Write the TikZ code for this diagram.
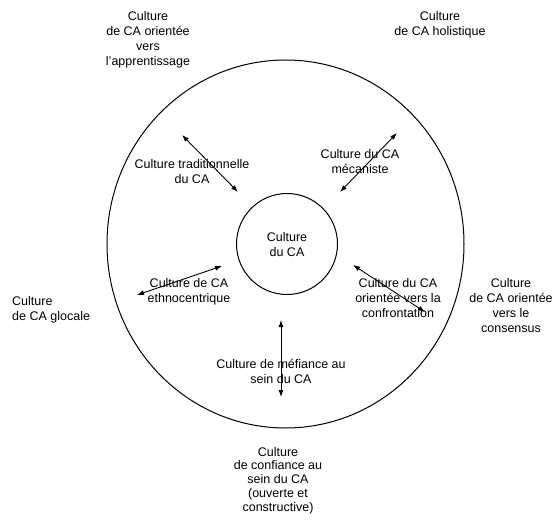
\documentclass[tikz,border=0pt]{standalone}
\usepackage{fontspec}
\setmainfont{Liberation Sans}
\usetikzlibrary{arrows.meta,shapes.geometric}
\begin{document}
\begin{tikzpicture}[x=1pt,y=-1pt,
  lbl/.style={align=center,inner sep=0pt,font=\fontsize{12.5}{15}\selectfont},
  dbl/.style={{Latex[length=7pt,width=5pt]}-{Latex[length=7pt,width=5pt]},line width=0.9pt},
  ring/.style={draw,line width=1pt}]
\useasboundingbox (0,0) rectangle (555,524);
% circles
\node[ring,ellipse,minimum width=357pt,minimum height=368pt,inner sep=0pt] (outer) at (285.5,244) {};
\node[ring,circle,minimum size=101pt,inner sep=0pt] (inner) at (287,244) {};
\node[lbl] (core) at (287,245) {Culture\\du CA};
% outside labels
\node[lbl] (appr) at (148,40) {Culture\\de CA orientée\\vers\\l'apprentissage};
\node[lbl] (holi) at (440,25) {Culture\\de CA holistique};
\node[lbl,align=left,anchor=west] (gloc) at (12,309.5) {Culture\\de CA glocale};
\node[lbl] (cons) at (511,305.5) {Culture\\de CA orientée\\vers le\\consensus};
\node[lbl,font=\fontsize{12.5}{13.8}\selectfont] (conf) at (278,480.5) {Culture\\de confiance au\\sein du CA\\(ouverte et\\constructive)};
% inside labels
\node[lbl] (trad) at (192,171.5) {Culture traditionnelle\\du CA};
\node[lbl] (meca) at (360,161.5) {Culture du CA\\mécaniste};
\node[lbl] (ethno) at (189,291.5) {Culture de CA\\ethnocentrique};
\node[lbl] (confr) at (398,298) {Culture du CA\\orientée vers la\\confrontation};
\node[lbl] (mef) at (281,371) {Culture de méfiance au\\sein du CA};
% arrow ends
\coordinate (t1) at (182,135); \coordinate (t2) at (238,192);
\coordinate (m1) at (397,133); \coordinate (m2) at (340,192);
\coordinate (e1) at (137,295); \coordinate (e2) at (222,266);
\coordinate (c1) at (353,265); \coordinate (c2) at (425,312);
\coordinate (v1) at (281,320); \coordinate (v2) at (281,397);
\draw[dbl] (t1) -- (t2);
\draw[dbl] (m1) -- (m2);
\draw[dbl] (e1) -- (e2);
\draw[dbl] (c1) -- (c2);
\draw[dbl] (v1) -- (v2);
\end{tikzpicture}
\end{document}
